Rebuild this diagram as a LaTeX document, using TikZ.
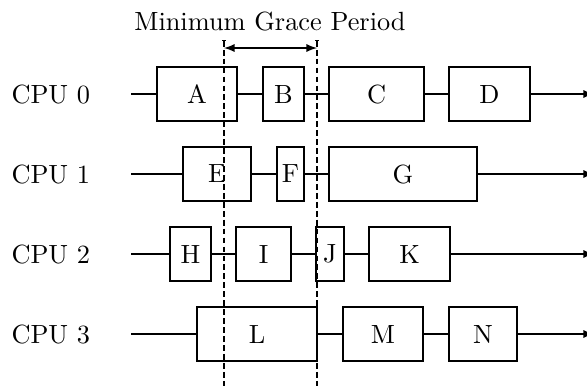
\documentclass[tikz,border=0pt]{standalone}
\usetikzlibrary{arrows.meta}
\newdimen\pxu \pxu=0.38pt
\begin{document}
\begin{tikzpicture}[x=0.38pt,y=-0.38pt,
  blk/.style={draw,inner sep=0pt,minimum height=54\pxu},
  lbl/.style={anchor=west,inner sep=0pt},
  grace/.style={draw,dash pattern=on 2.2pt off 1.2pt}]
\useasboundingbox (0,0) rectangle (587,385);
% title
\node (title) at (270,22) {Minimum Grace Period};
% CPU labels
\node[lbl] (c0) at (11,94) {CPU 0};
\node[lbl] (c1) at (11,174) {CPU 1};
\node[lbl] (c2) at (11,254) {CPU 2};
\node[lbl] (c3) at (11,334) {CPU 3};
% start/end coordinates
\coordinate (s0) at (131,94);  \coordinate (e0) at (594,94);
\coordinate (s1) at (131,174); \coordinate (e1) at (594,174);
\coordinate (s2) at (131,254); \coordinate (e2) at (594,254);
\coordinate (s3) at (131,334); \coordinate (e3) at (594,334);
% row 0
\node[blk,minimum width=80\pxu] (A) at (197,94) {A};
\node[blk,minimum width=41\pxu] (B) at (283.5,94) {B};
\node[blk,minimum width=95\pxu] (C) at (376.5,94) {C};
\node[blk,minimum width=81\pxu] (D) at (489.5,94) {D};
% row 1
\node[blk,minimum width=68\pxu] (E) at (217,174) {E};
\node[blk,minimum width=27\pxu] (F) at (290.5,174) {F};
\node[blk,minimum width=148\pxu] (G) at (403,174) {G};
% row 2
\node[blk,minimum width=41\pxu] (H) at (190.5,254) {H};
\node[blk,minimum width=55\pxu] (I) at (263.5,254) {I};
\node[blk,minimum width=28\pxu] (J) at (330,254) {J};
\node[blk,minimum width=81\pxu] (K) at (409.5,254) {K};
% row 3
\node[blk,minimum width=120\pxu] (L) at (257,334) {L};
\node[blk,minimum width=80\pxu] (M) at (383,334) {M};
\node[blk,minimum width=68\pxu] (N) at (483,334) {N};
% connectors
\draw (s0) -- (A); \draw (A) -- (B); \draw (B) -- (C); \draw (C) -- (D); \draw[-latex] (D) -- (e0);
\draw (s1) -- (E); \draw (E) -- (F); \draw (F) -- (G); \draw[-latex] (G) -- (e1);
\draw (s2) -- (H); \draw (H) -- (I); \draw (I) -- (J); \draw (J) -- (K); \draw[-latex] (K) -- (e2);
\draw (s3) -- (L); \draw (L) -- (M); \draw (M) -- (N); \draw[-latex] (N) -- (e3);
% grace period lines
\coordinate (g1t) at (224,40); \coordinate (g1b) at (224,392);
\coordinate (g2t) at (317,40); \coordinate (g2b) at (317,392);
\draw[grace,{Bar[width=1.5pt]}-] (g1t) -- (g1b);
\draw[grace,{Bar[width=1.5pt]}-] (g2t) -- (g2b);
\coordinate (ga) at (224,48); \coordinate (gb) at (317,48);
\draw[latex-latex] (ga) -- (gb);
\end{tikzpicture}
\end{document}
